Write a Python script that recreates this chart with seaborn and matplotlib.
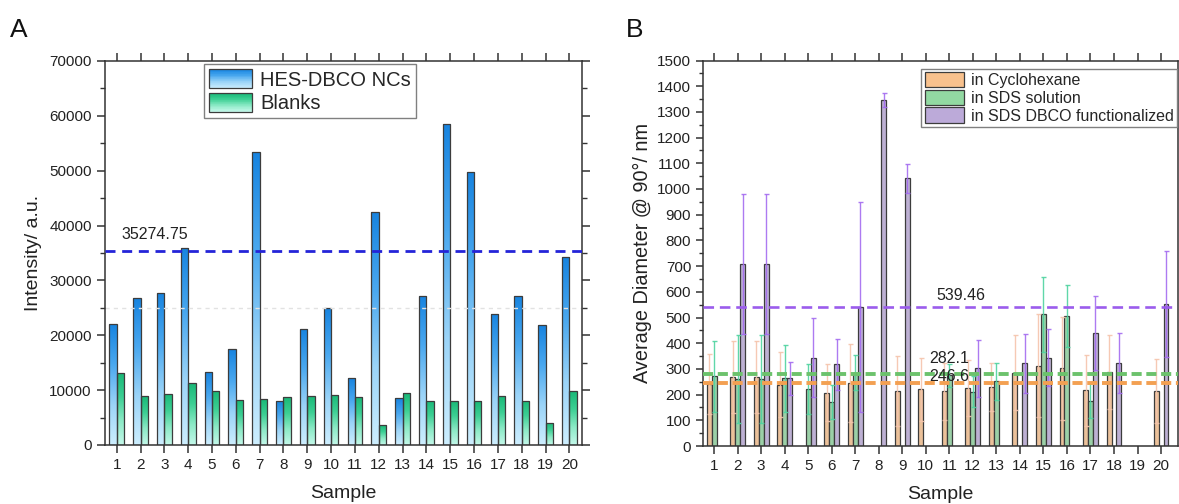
import numpy as np
import pandas as pd
import matplotlib
matplotlib.use("Agg")
import matplotlib.pyplot as plt
import seaborn as sns
from matplotlib.colors import LinearSegmentedColormap
from matplotlib.legend_handler import HandlerBase
from matplotlib.patches import Rectangle, Patch
from matplotlib.ticker import MultipleLocator

# ---------------------------------------------------------------- data
samples = [str(i) for i in range(1, 21)]

# A: fluorescence intensity of nanocapsules vs blanks
hes_dbco = [22040, 26720, 27740, 35940, 13240, 17430, 53370, 7960, 21070, 24950,
            12150, 42440, 8500, 27200, 58530, 49730, 23920, 27200, 21800, 34240]
blanks = [13120, 8870, 9350, 11230, 9840, 8140, 8320, 8740, 8870, 9170,
          8680, 3580, 9470, 8080, 7960, 7960, 8870, 8080, 4060, 9780]
threshold_a = 35274.75
guide_a = 25000

# B: DLS diameters (mean and standard deviation)
nan = np.nan
cyclohexane = [241, 270, 270, 239, nan, 208, 244, nan, 214, 220,
               213, 225, 231, 285, 313, 302, 217, 287, nan, 213]
cyclohexane_sd = [116, 140, 140, 127, nan, 111, 152, nan, 136, 121,
                  110, 110, 93, 145, 201, 199, 139, 144, nan, 124]
sds = [272, 260, 260, 263, 222, 171, 285, nan, nan, nan,
       276, 211, 252, nan, 513, 506, 176, nan, nan, nan]
sds_sd = [138, 172, 172, 131, 97, 66, 69, nan, nan, nan,
          45, 60, 72, nan, 146, 122, 68, nan, nan, nan]
sds_dbco = [nan, 708, 708, 263, 344, 318, 540, 1347, 1041, nan,
            nan, 302, nan, 322, 344, nan, 440, 322, nan, 553]
sds_dbco_sd = [nan, 273, 273, 64, 154, 99, 409, 28, 57, nan,
               nan, 111, nan, 114, 110, nan, 144, 117, nan, 205]
mean_cyclohexane = 246.6
mean_sds = 282.1
mean_sds_dbco = 539.46

series_a = ["HES-DBCO NCs", "Blanks"]
series_b = ["in Cyclohexane", "in SDS solution", "in SDS DBCO functionalized"]

# ---------------------------------------------------------------- style
sns.set_style("ticks")
plt.rcParams["font.family"] = ["Liberation Sans", "DejaVu Sans"]
plt.rcParams["axes.linewidth"] = 1.1
plt.rcParams["axes.edgecolor"] = "#333333"

EDGE = "#3c3c3c"
TXT = "#222222"
cmap_hes = LinearSegmentedColormap.from_list(
    "hes", ["#cdeefe", "#9bd4f8", "#4aa8ef", "#1784e0"])
cmap_blank = LinearSegmentedColormap.from_list(
    "blank", ["#c4f8ea", "#8ceac6", "#3ccf93", "#19b877"])
cmaps_a = dict(zip(series_a, [cmap_hes, cmap_blank]))

colors_b = dict(zip(series_b, ["#f8c18d", "#92d9a2", "#bcaad9"]))
err_colors_b = dict(zip(series_b, ["#f5c4ac", "#4fd3a0", "#a46cf0"]))
sd_b = dict(zip(series_b, [cyclohexane_sd, sds_sd, sds_dbco_sd]))


class GradientHandler(HandlerBase):
    """Legend key filled with a vertical colour ramp."""

    def __init__(self, cmap):
        super().__init__()
        self.cmap = cmap

    def create_artists(self, legend, orig_handle, xdescent, ydescent,
                       width, height, fontsize, trans):
        n = 30
        arts = []
        for i in range(n):
            arts.append(Rectangle((-xdescent, -ydescent + height * i / n),
                                  width, height / n * 1.05,
                                  facecolor=self.cmap(i / (n - 1)),
                                  edgecolor="none", transform=trans))
        arts.append(Rectangle((-xdescent, -ydescent), width, height,
                              facecolor="none", edgecolor=EDGE, lw=0.9,
                              transform=trans))
        return arts


fig = plt.figure(figsize=(11.79, 5.04), dpi=100)
axA = fig.add_axes([105 / 1179, 59 / 504, 477 / 1179, 384 / 504])
axB = fig.add_axes([703 / 1179, 58 / 504, 475 / 1179, 385.5 / 504])

# ---------------------------------------------------------------- panel A
df_a = pd.DataFrame({
    "Sample": samples * 2,
    "Series": [series_a[0]] * 20 + [series_a[1]] * 20,
    "Intensity": hes_dbco + blanks,
})
sns.barplot(data=df_a, x="Sample", y="Intensity", hue="Series",
            order=samples, hue_order=series_a, width=0.62,
            errorbar=None, edgecolor=EDGE, linewidth=0.9,
            palette=["#4aa8ef", "#3ccf93"], legend=False, ax=axA)

grad = np.linspace(0, 1, 256).reshape(-1, 1)
for name, cont in zip(series_a, axA.containers):
    for bar in cont:
        h = bar.get_height()
        if not np.isfinite(h) or h <= 0:
            continue
        x0, w = bar.get_x(), bar.get_width()
        im = axA.imshow(grad, cmap=cmaps_a[name], origin="lower",
                        extent=[x0, x0 + w, 0, h], aspect="auto",
                        interpolation="bilinear", zorder=1.5)
        im.set_clip_path(bar)
        bar.set_facecolor("none")
        bar.set_zorder(2)

axA.axhline(guide_a, color="#e2e2e2", lw=1.0, ls=(0, (3, 3)), zorder=2.5)
axA.axhline(threshold_a, color="#2424d8", lw=2.0, ls=(0, (3.6, 2.4)), zorder=3)
axA.text(0.18, threshold_a + 1700, f"{threshold_a:.2f}", fontsize=11.5,
         color=TXT, ha="left", va="bottom")

axA.set_xlim(-0.49, 19.53)
axA.set_ylim(0, 70000)
axA.yaxis.set_major_locator(MultipleLocator(10000))
axA.yaxis.set_minor_locator(MultipleLocator(5000))
axA.set_xlabel("Sample", fontsize=14, color=TXT, labelpad=9)
axA.set_ylabel("Intensity/ a.u.", fontsize=14, color=TXT, labelpad=5)
axA.tick_params(axis="both", which="both", direction="out", colors="#333333",
                labelcolor=TXT, labelsize=11)
axA.tick_params(axis="x", which="major", top=True, length=6, width=1.1)
axA.tick_params(axis="y", which="major", right=True, length=6, width=1.1)
axA.tick_params(axis="y", which="minor", right=True, length=3.5, width=1.0)

proxies_a = [Patch(label=s) for s in series_a]
legA = axA.legend(handles=proxies_a, labels=series_a,
                  handler_map={proxies_a[0]: GradientHandler(cmap_hes),
                               proxies_a[1]: GradientHandler(cmap_blank)},
                  loc="upper left", bbox_to_anchor=(0.207, 0.992),
                  fontsize=14.5, frameon=True, fancybox=False,
                  edgecolor="#808080", framealpha=1, borderpad=0.25,
                  labelspacing=0.15, handlelength=2.15, handleheight=1.1,
                  handletextpad=0.4, borderaxespad=0)
legA.get_frame().set_linewidth(1.0)

# ---------------------------------------------------------------- panel B
df_b = pd.DataFrame({
    "Sample": samples * 3,
    "Medium": [series_b[0]] * 20 + [series_b[1]] * 20 + [series_b[2]] * 20,
    "Diameter": cyclohexane + sds + sds_dbco,
})
sns.barplot(data=df_b, x="Sample", y="Diameter", hue="Medium",
            order=samples, hue_order=series_b, width=0.63,
            errorbar=None, edgecolor=EDGE, linewidth=0.9,
            palette=colors_b, legend=False, ax=axB)

for name, cont in zip(series_b, axB.containers):
    for bar in cont:
        h = bar.get_height()
        if not np.isfinite(h):
            continue
        xc = bar.get_x() + bar.get_width() / 2
        sd = sd_b[name][int(round(xc))]
        if not np.isfinite(sd):
            continue
        axB.errorbar(xc, h, yerr=sd, fmt="none", ecolor=err_colors_b[name],
                     elinewidth=1.0, capsize=1.8, capthick=1.0, alpha=0.9,
                     zorder=2.6)

axB.axhline(mean_sds_dbco, color="#9b5cec", lw=1.9, ls=(0, (4, 2.2)), zorder=3)
axB.axhline(mean_sds, color="#6cc26c", lw=2.8, ls=(0, (2.6, 1.2)), zorder=3)
axB.axhline(mean_cyclohexane, color="#f3a052", lw=2.8, ls=(0, (2.6, 1.2)),
            zorder=3)
axB.text(9.43, mean_sds_dbco + 18, f"{mean_sds_dbco:.2f}", fontsize=11.5,
         color=TXT, ha="left", va="bottom", zorder=4)
axB.text(9.15, 342, f"{mean_sds:.1f}", fontsize=11.5, color=TXT,
         ha="left", va="center", zorder=4)
axB.text(9.15, 272, f"{mean_cyclohexane:.1f}", fontsize=11.5, color=TXT,
         ha="left", va="center", zorder=4)

axB.set_xlim(-0.47, 19.72)
axB.set_ylim(0, 1500)
axB.yaxis.set_major_locator(MultipleLocator(100))
axB.yaxis.set_minor_locator(MultipleLocator(50))
axB.set_xlabel("Sample", fontsize=14, color=TXT, labelpad=9)
axB.set_ylabel("Average Diameter @ 90°/ nm", fontsize=14.3, color=TXT,
               labelpad=4)
axB.tick_params(axis="both", which="both", direction="out", colors="#333333",
                labelcolor=TXT, labelsize=11)
axB.tick_params(axis="x", which="major", top=True, length=6, width=1.1)
axB.tick_params(axis="y", which="major", length=5, width=1.1)
axB.tick_params(axis="y", which="minor", length=3, width=1.0)

handles_b = [Patch(facecolor=colors_b[s], edgecolor=EDGE, lw=0.9)
             for s in series_b]
legB = axB.legend(handles=handles_b, labels=series_b, loc="upper left",
                  bbox_to_anchor=(0.459, 0.979), fontsize=11.5, frameon=True,
                  fancybox=False, edgecolor="#808080", framealpha=1,
                  borderpad=0.22, labelspacing=0.1, handlelength=2.45,
                  handleheight=1.1, handletextpad=0.45, borderaxespad=0)
legB.get_frame().set_linewidth(1.0)

# panel letters
fig.text(10 / 1179, 1 - 18 / 504, "A", fontsize=19, color="#111111",
         ha="left", va="top")
fig.text(626 / 1179, 1 - 18 / 504, "B", fontsize=19, color="#111111",
         ha="left", va="top")

fig.savefig("out.png", dpi=100)
